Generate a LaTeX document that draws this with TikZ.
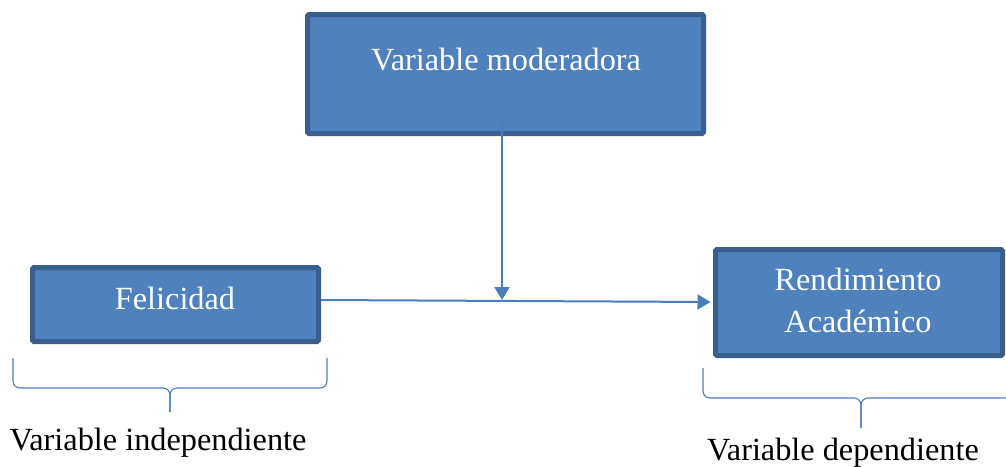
\documentclass[tikz,border=0pt]{standalone}
\usepackage{fontspec}
\setmainfont{Liberation Serif}
\usetikzlibrary{arrows.meta}
\definecolor{boxfill}{HTML}{4F81BD}
\definecolor{boxline}{HTML}{3A5F8E}
\definecolor{arrcol}{HTML}{4A7EBB}
\tikzset{
  vbox/.style={draw=boxline, fill=boxfill, line width=5pt, rounded corners=1.5pt, inner sep=0pt},
  wtxt/.style={text=white, font=\fontsize{32.3}{42}\selectfont, inner sep=0pt, anchor=base},
  btxt/.style={text=black, font=\fontsize{32.3}{42}\selectfont, inner sep=0pt, anchor=base},
  arr/.style={draw=arrcol, line width=2pt, -{Triangle[length=13pt,width=15pt]}},
  brc/.style={draw=arrcol, line width=1.1pt, rounded corners=7pt}
}
\begin{document}
\begin{tikzpicture}[x=1pt,y=-1pt]
\useasboundingbox (0,0) rectangle (1006,466);
\node[vbox, minimum width=396pt, minimum height=119pt] (mod) at (505.5,74) {};
\node[vbox, minimum width=286pt, minimum height=74pt] (fel) at (175.5,304.5) {};
\node[vbox, minimum width=287pt, minimum height=106pt] (ren) at (859,302.5) {};
\node[wtxt] (tmod) at (506,70) {Variable moderadora};
\node[wtxt] (tfel) at (175,309) {Felicidad};
\node[wtxt] (tren1) at (858,290) {Rendimiento};
\node[wtxt] (tren2) at (858,332) {Académico};
\coordinate (mstart) at (502,117);
\coordinate (mjoin) at (502,300);
\draw[arr] (mstart) -- (mjoin);
\draw[arr] ([yshift=4.5pt]fel.east) -- ([yshift=0.5pt,xshift=-2.5pt]ren.west);
% braces
\coordinate (bl1) at (13,358);
\coordinate (bl2) at (327,358);
\coordinate (blt) at (170,412);
\draw[brc] (bl1) -- (13,388) -- (170,388) -- (blt);
\draw[brc] (bl2) -- (327,388) -- (170,388) -- (blt);
\coordinate (br1) at (703,368);
\coordinate (br2) at (1012,368);
\coordinate (brt) at (861,428);
\draw[brc] (br1) -- (703,398) -- (861,398) -- (brt);
\draw[brc] (br2) -- (1012,398) -- (861,398) -- (brt);
\node[btxt] (tind) at (158,450) {Variable independiente};
\node[btxt] (tdep) at (843,460) {Variable dependiente};
\end{tikzpicture}
\end{document}
